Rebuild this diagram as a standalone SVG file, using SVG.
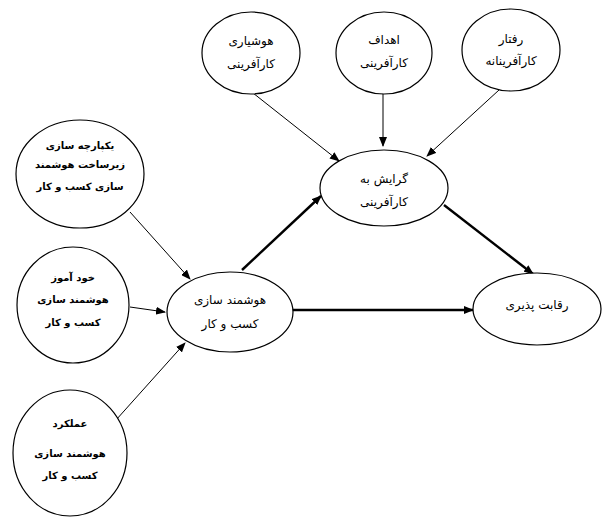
<svg xmlns="http://www.w3.org/2000/svg" width="615" height="531" viewBox="0 0 615 531">
<style>
.n{fill:#fff;stroke:#000;stroke-width:1.2}
text{font-family:"DejaVu Sans","Noto Sans",sans-serif;font-size:12px;text-anchor:middle;direction:rtl;fill:#000}
.b{font-weight:bold;font-size:10px}
.t{stroke:#000;stroke-width:1;fill:none}
.k{stroke:#000;stroke-width:2.4;fill:none}
</style>
<defs>
<marker id="a" markerWidth="10" markerHeight="8" refX="9" refY="4" orient="auto" markerUnits="userSpaceOnUse"><path d="M0,0L10,4L0,8z"/></marker>
</defs>
<rect width="615" height="531" fill="#fff"/>
<g id="connectors">
<line class="t" x1="130" y1="212" x2="190" y2="279" marker-end="url(#a)"/>
<line class="t" x1="130" y1="307" x2="165" y2="312" marker-end="url(#a)"/>
<line class="t" x1="116" y1="420" x2="185" y2="343" marker-end="url(#a)"/>
<line class="t" x1="253" y1="93" x2="339" y2="161" marker-end="url(#a)"/>
<line class="t" x1="383" y1="93" x2="383" y2="146" marker-end="url(#a)"/>
<line class="t" x1="499" y1="90" x2="427" y2="156" marker-end="url(#a)"/>
<line class="k" x1="242" y1="270" x2="321" y2="196" marker-end="url(#a)"/>
<line class="k" x1="444" y1="205" x2="533" y2="274" marker-end="url(#a)"/>
<line class="k" x1="292" y1="310" x2="473" y2="310" marker-end="url(#a)"/>
</g>
<g id="n1"><ellipse class="n" cx="251" cy="53" rx="49" ry="41"/><text x="251" y="45">هوشیاری</text><text x="251" y="68">کارآفرینی</text></g>
<g id="n2"><ellipse class="n" cx="384" cy="53" rx="48" ry="41"/><text x="384" y="44">اهداف</text><text x="384" y="67">کارآفرینی</text></g>
<g id="n3"><ellipse class="n" cx="511" cy="50" rx="49" ry="41"/><text x="511" y="43">رفتار</text><text x="511" y="65">کارآفرینانه</text></g>
<g id="n4"><ellipse class="n" cx="384" cy="188" rx="64" ry="38"/><text x="384" y="183">گرایش به</text><text x="384" y="206">کارآفرینی</text></g>
<g id="n5"><ellipse class="n" cx="537" cy="309" rx="64" ry="36"/><text x="537" y="309">رقابت پذیری</text></g>
<g id="n6"><ellipse class="n" cx="230" cy="312" rx="63" ry="40"/><text x="230" y="304">هوشمند سازی</text><text x="230" y="328">کسب و کار</text></g>
<g id="n7"><ellipse class="n" cx="80" cy="174" rx="64" ry="54"/><text class="b" x="80" y="149">یکپارچه سازی</text><text class="b" x="80" y="168">زیرساخت هوشمند</text><text class="b" x="80" y="190">سازی کسب و کار</text></g>
<g id="n8"><ellipse class="n" cx="73" cy="305" rx="56" ry="58"/><text class="b" x="73" y="281">خود آموز</text><text class="b" x="73" y="303">هوشمند سازی</text><text class="b" x="73" y="326">کسب و کار</text></g>
<g id="n9"><ellipse class="n" cx="70" cy="453" rx="57" ry="63"/><text class="b" x="70" y="427">عملکرد</text><text class="b" x="70" y="457">هوشمند سازی</text><text class="b" x="70" y="479">کسب و کار</text></g>
</svg>
